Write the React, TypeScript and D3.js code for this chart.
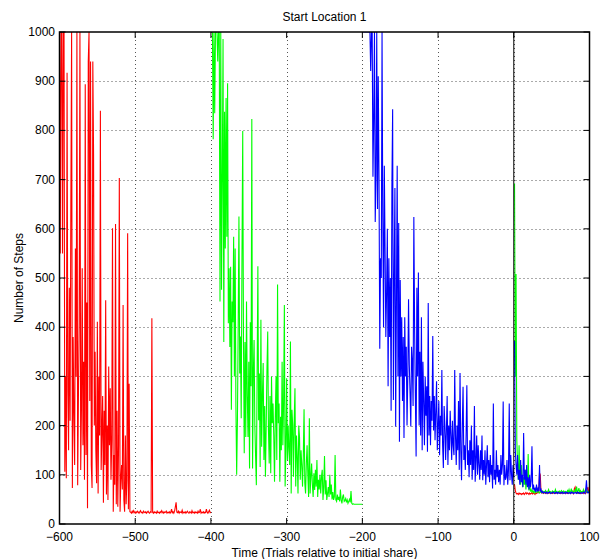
import React from "react";
import * as d3 from "d3";

const xTicks = [-600, -500, -400, -300, -200, -100, 0, 100];
const yTicks = [0, 100, 200, 300, 400, 500, 600, 700, 800, 900, 1000];

// Red (start location learned first), trials -600 .. -507
const redNoisy = [
  1000, 550, 1000, 1000, 550, 1000, 1000, 106, 300, 93,
  917, 270, 150, 480, 210, 650, 1000, 73, 380, 221,
  120, 560, 300, 1000, 79, 260, 410, 1000, 110, 234,
  520, 160, 330, 90, 894, 140, 450, 32, 940, 1000,
  250, 940, 120, 73, 940, 752, 200, 350, 150, 83,
  411, 62, 300, 180, 840, 110, 190, 260, 43, 230,
  120, 455, 60, 200, 49, 320, 160, 276, 90, 171,
  601, 25, 140, 80, 610, 40, 230, 35, 160, 703,
  25, 90, 120, 70, 445, 50, 25, 180, 40, 90,
  591, 30, 285, 25,
];
// Red, trials -506 .. -400
const redFlat = [
  24, 22, 26, 23, 27, 24, 22, 25, 23, 26,
  24, 22, 25, 27, 23, 24, 22, 26, 24, 23,
  25, 22, 24, 26, 23, 22, 25, 24, 418, 24,
  22, 25, 23, 24, 22, 26, 23, 24, 22, 25,
  23, 27, 24, 22, 25, 23, 24, 26, 22, 24,
  23, 25, 22, 24, 30, 23, 25, 22, 26, 35,
  44, 24, 23, 26, 22, 25, 24, 23, 28, 22,
  24, 23, 25, 22, 24, 26, 23, 22, 25, 24,
  22, 27, 23, 24, 22, 25, 23, 24, 22, 26,
  23, 24, 30, 22, 24, 23, 25, 22, 24, 23,
  30, 24, 22, 25, 28, 23, 24,
];
// Green, trials -399 .. -200
const greenEarly = [
  1000, 1000, 782, 1000, 835, 1000, 1000, 1000, 940, 1000, 1000,
  452, 1000, 476, 700, 986, 370, 838, 560, 866, 584, 896, 408,
  520, 360, 523, 232, 452, 410, 584, 300, 560, 240,
  100, 211, 400, 625, 306, 381, 215, 540, 799, 374, 144, 370, 177, 452, 260, 177, 330, 113, 410, 280,
  823, 113, 306, 374, 200, 137, 79, 300, 524, 211, 306, 116, 415, 157, 260, 327, 130, 240, 96, 200,
  313, 391, 191, 123, 260, 103, 300, 205, 245, 180, 86, 218, 300, 130, 487, 205, 245, 86, 218, 150, 330, 160,
  250, 445, 76, 150, 296, 130, 200, 150, 120, 371, 62, 232, 201, 96, 211, 276, 76, 180, 137, 62, 200, 177,
  90, 150, 120, 76, 137, 233, 83, 62, 123, 160, 100, 55, 215, 62, 96, 123, 80, 55, 103, 69, 110, 76,
  130, 55, 90, 70, 100, 62, 96, 110, 49, 76, 138, 60, 89, 49, 62, 75, 55, 100, 60, 80, 50, 65,
  49, 55, 140, 49, 46, 60, 49, 55, 46, 70, 49, 42, 55, 60, 46, 48, 52, 44, 49, 42, 46, 50, 44, 67,
  42, 40, 41, 40, 40, 40, 40, 40, 40, 40, 40, 40, 40, 40, 40,
];
// Blue, trials -199 .. 0
const blueEarly = [
  1000, 1000, 1000, 1000, 1000, 1000, 1000, 1000, 1000, 1000, 921, 1000, 1000, 706, 825, 1000, 614, 706, 1000, 640, 910, 700, 356, 540,
  500, 1000, 620, 400, 728, 560, 380, 470, 600, 280, 540, 380, 500, 230, 683, 843,
  252, 500, 683, 198, 450, 728, 300, 612, 167, 496, 300, 420, 250, 380, 175, 420, 300, 360, 200, 300,
  457, 323, 266, 198, 360, 330, 240, 624, 400, 260, 137, 480, 300, 511, 200, 350, 180, 420, 150, 330,
  250, 160, 300, 220, 280, 147, 449, 180, 260, 160, 250, 210, 382, 190, 260, 170, 230, 290, 150, 200,
  250, 140, 220, 180, 313, 160, 114, 240, 200, 130, 190, 260, 120, 200, 150, 230, 180, 130, 210, 160,
  140, 313, 180, 120, 200, 150, 250, 110, 307, 150, 89, 200, 279, 130, 160, 110, 180, 282, 120, 150,
  95, 170, 120, 200, 90, 150, 110, 240, 86, 130, 180, 100, 160, 120, 90, 150, 110, 180, 89, 130,
  100, 150, 80, 120, 160, 95, 130, 85, 140, 100, 120, 72, 245, 90, 110, 80, 150, 95, 120, 85,
  110, 80, 140, 100, 120, 249, 79, 120, 90, 95, 130, 80, 110, 245, 89, 140, 100, 80, 120, 95,
];
// After the initial share, trials 1 .. 100
const redLate = [
  80, 68, 63, 61, 62, 60, 63, 61, 62, 60,
  62, 61, 63, 60, 62, 64, 61, 63, 62, 60,
  63, 61, 62, 64, 61, 63, 62, 60, 63, 62,
  64, 63, 66, 104, 100, 65, 63, 64, 62, 63,
  64, 62, 63, 65, 62, 63, 64, 62, 63, 64,
  62, 63, 65, 63, 62, 64, 63, 62, 65, 63,
  64, 62, 63, 65, 62, 64, 63, 62, 64, 63,
  62, 64, 66, 63, 62, 64, 63, 65, 62, 72,
  75, 64, 63, 65, 62, 63, 64, 62, 65, 63,
  64, 62, 66, 63, 62, 65, 73, 74, 64, 63,
];
const greenLate = [
  692, 300, 508, 170, 120, 90, 160, 100, 80, 120,
  90, 75, 95, 80, 110, 70, 100, 75, 142, 68,
  85, 66, 70, 65, 68, 64, 67, 63, 66, 65,
  64, 67, 65, 63, 66, 64, 65, 67, 63, 66,
  64, 68, 65, 63, 66, 70, 64, 66, 65, 63,
  67, 64, 66, 65, 70, 64, 66, 63, 65, 67,
  64, 66, 68, 65, 63, 67, 64, 66, 65, 64,
  68, 65, 70, 64, 66, 72, 65, 67, 64, 66,
  70, 65, 76, 64, 67, 73, 65, 68, 64, 66,
  65, 70, 64, 66, 72, 65, 64, 67, 65, 66,
];
const blueLate = [
  372, 150, 120, 100, 140, 90, 110, 80, 130, 85,
  100, 75, 185, 90, 110, 80, 120, 75, 95, 70,
  100, 75, 88, 158, 70, 80, 68, 72, 65, 80,
  66, 72, 67, 120, 66, 70, 64, 66, 63, 65,
  64, 63, 65, 62, 64, 63, 65, 64, 62, 63,
  64, 65, 63, 62, 64, 63, 65, 62, 64, 63,
  62, 64, 63, 65, 62, 63, 64, 62, 65, 63,
  64, 62, 63, 64, 62, 65, 63, 64, 62, 63,
  64, 63, 62, 65, 63, 64, 62, 63, 64, 62,
  63, 65, 64, 62, 70, 89, 64, 63, 65, 63,
];

const W = 603;
const H = 559;
const L = 59.5, R = 589.5, T = 32, B = 524;
const FONT = "'Liberation Sans', Arial, Helvetica, sans-serif";

type Pt = [number, number];
const toPts = (vals: number[], start: number): Pt[] => vals.map((v, i) => [start + i, v]);

export default function App() {
  const x = d3.scaleLinear().domain([-600, 100]).range([L, R]);
  const y = d3.scaleLinear().domain([0, 1000]).range([B, T]);
  const line = d3.line<Pt>().x((d) => x(d[0])).y((d) => y(d[1]));

  const series: { pts: Pt[]; color: string }[] = [
    { pts: toPts(redNoisy.concat(redFlat), -600), color: "#ff0000" },
    { pts: toPts(greenEarly, -399), color: "#00ff00" },
    { pts: toPts(blueEarly, -199), color: "#0000ff" },
    { pts: toPts(redLate, 1), color: "#ff0000" },
    { pts: toPts(greenLate, 1), color: "#00ff00" },
    { pts: toPts(blueLate, 1), color: "#0000ff" },
  ];

  const tick = 6;
  const fmt = (v: number) => (v < 0 ? "\u2212" + Math.abs(v) : String(v));

  return (
    <svg width={W} height={H} style={{ position: "absolute", left: 0, top: 0, background: "#fff" }} fontFamily={FONT}>
      <defs>
        <clipPath id="plotclip">
          <rect x={L} y={T} width={R - L} height={B - T} />
        </clipPath>
      </defs>
      <rect x={0} y={0} width={W} height={H} fill="#fff" />
      {/* grid */}
      <g stroke="#555" strokeWidth={1} strokeDasharray="1,3">
        {xTicks.slice(1, -1).map((t) => (
          <line key={"gx" + t} x1={Math.round(x(t)) + 0.5} x2={Math.round(x(t)) + 0.5} y1={T} y2={B} />
        ))}
        {yTicks.slice(1, -1).map((t) => (
          <line key={"gy" + t} x1={L} x2={R} y1={Math.round(y(t)) + 0.5} y2={Math.round(y(t)) + 0.5} />
        ))}
      </g>
      {/* data */}
      <g clipPath="url(#plotclip)" fill="none" strokeLinejoin="miter">
        {series.map((s, i) => (
          <path key={i} d={line(s.pts) || ""} stroke={s.color} strokeWidth={1.1} />
        ))}
        <line x1={x(0)} x2={x(0)} y1={T} y2={B} stroke="#000" strokeWidth={1} />
      </g>
      {/* frame and ticks */}
      <rect x={L} y={T} width={R - L} height={B - T} fill="none" stroke="#000" strokeWidth={1.5} />
      <g stroke="#000" strokeWidth={1}>
        {xTicks.map((t) => (
          <g key={"tx" + t}>
            <line x1={x(t)} x2={x(t)} y1={B} y2={B - tick} />
            <line x1={x(t)} x2={x(t)} y1={T} y2={T + tick} />
          </g>
        ))}
        {yTicks.map((t) => (
          <g key={"ty" + t}>
            <line x1={L} x2={L + tick} y1={y(t)} y2={y(t)} />
            <line x1={R} x2={R - tick} y1={y(t)} y2={y(t)} />
          </g>
        ))}
      </g>
      {/* tick labels */}
      <g fontSize={12} fill="#000">
        {xTicks.map((t) => (
          <text key={"lx" + t} x={x(t)} y={B + 16.5} textAnchor="middle">
            {fmt(t)}
          </text>
        ))}
        {yTicks.map((t) => (
          <text key={"ly" + t} x={L - 4.5} y={y(t) + 4} textAnchor="end">
            {fmt(t)}
          </text>
        ))}
      </g>
      <text x={(L + R) / 2} y={20.5} textAnchor="middle" fontSize={12} fill="#000">
        Start Location 1
      </text>
      <text x={(L + R) / 2} y={556.5} textAnchor="middle" fontSize={12} fill="#000">
        Time (Trials relative to initial share)
      </text>
      <text
        transform={`translate(23,${(T + B) / 2}) rotate(-90)`}
        textAnchor="middle"
        fontSize={12}
        fill="#000"
      >
        Number of Steps
      </text>
    </svg>
  );
}
